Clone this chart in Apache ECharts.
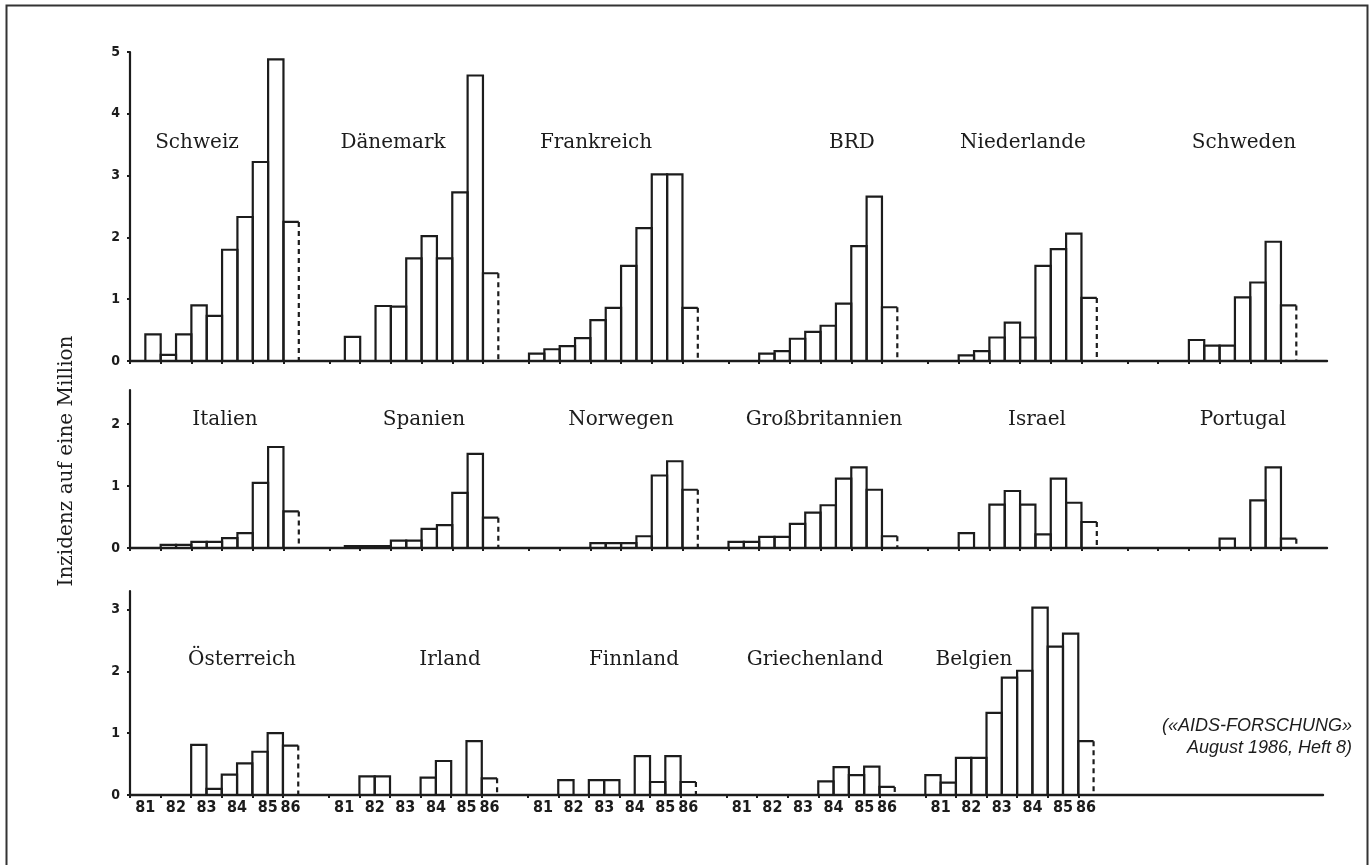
<!DOCTYPE html>
<html><head><meta charset="utf-8">
<script src="https://cdn.jsdelivr.net/npm/echarts@6/dist/echarts.min.js"></script>
<style>html,body{margin:0;padding:0;background:#fff}#c{width:1370px;height:865px}</style>
</head><body><div id="c"></div>
<script>
// ---- data ----
const halfYears = ['81/1','81/2','82/1','82/2','83/1','83/2','84/1','84/2','85/1','85/2','86/1'];
const yearLabels = ['81','82','83','84','85','86'];
const yAxisTitle = 'Inzidenz auf eine Million';
const sourceLines = ['(«AIDS-FORSCHUNG»', 'August 1986, Heft 8)'];

const row1Countries = ['Schweiz','Dänemark','Frankreich','BRD','Niederlande','Schweden'];
const row2Countries = ['Italien','Spanien','Norwegen','Großbritannien','Israel','Portugal'];
const row3Countries = ['Österreich','Irland','Finnland','Griechenland','Belgien'];

const schweiz        = [0, 0.43, 0.10, 0.43, 0.90, 0.73, 1.80, 2.33, 3.22, 4.88, 2.25];
const daenemark      = [0, 0.39, 0, 0.89, 0.88, 1.66, 2.02, 1.66, 2.73, 4.62, 1.42];
const frankreich     = [0.12, 0.19, 0.24, 0.37, 0.66, 0.86, 1.54, 2.15, 3.02, 3.02, 0.86];
const brd            = [0, 0, 0.12, 0.16, 0.36, 0.47, 0.57, 0.93, 1.86, 2.66, 0.87];
const niederlande    = [0, 0, 0.09, 0.16, 0.38, 0.62, 0.38, 1.54, 1.81, 2.06, 1.02];
const schweden       = [0, 0, 0, 0, 0.34, 0.25, 0.25, 1.03, 1.27, 1.93, 0.90];

const italien        = [0, 0, 0.05, 0.05, 0.10, 0.10, 0.16, 0.24, 1.05, 1.63, 0.59];
const spanien        = [0, 0.03, 0.03, 0.03, 0.12, 0.12, 0.31, 0.37, 0.89, 1.52, 0.49];
const norwegen       = [0, 0, 0, 0, 0.08, 0.08, 0.08, 0.19, 1.17, 1.40, 0.94];
const grossbritannien= [0.10, 0.10, 0.18, 0.18, 0.39, 0.57, 0.69, 1.12, 1.30, 0.94, 0.19];
const israel         = [0, 0, 0.24, 0, 0.70, 0.92, 0.70, 0.22, 1.12, 0.73, 0.42];
const portugal       = [0, 0, 0, 0, 0, 0, 0.15, 0, 0.77, 1.30, 0.15];

const oesterreich    = [0, 0, 0, 0, 0.81, 0.10, 0.33, 0.51, 0.70, 1.00, 0.80];
const irland         = [0, 0, 0.30, 0.30, 0, 0, 0.28, 0.55, 0, 0.87, 0.27];
const finnland       = [0, 0, 0.24, 0, 0.24, 0.24, 0, 0.63, 0.21, 0.63, 0.21];
const griechenland   = [0, 0, 0, 0, 0, 0, 0.22, 0.45, 0.32, 0.46, 0.13];
const belgien        = [0.32, 0.20, 0.60, 0.60, 1.33, 1.90, 2.01, 3.03, 2.40, 2.61, 0.87];

const row1Values = [schweiz, daenemark, frankreich, brd, niederlande, schweden];
const row2Values = [italien, spanien, norwegen, grossbritannien, israel, portugal];
const row3Values = [oesterreich, irland, finnland, griechenland, belgien];

const row1Ticks = [0, 1, 2, 3, 4, 5];
const row2Ticks = [0, 1, 2];
const row3Ticks = [0, 1, 2, 3];

// ---- layout (not data) ----
const SLOTS_PER_COUNTRY = 13;
const TOTAL_SLOTS = 78;
const INK = '#1c1c1c';
const rowsLayout = [
  { top: 52,  height: 309, width: 1197, max: 5,    labelY: 143 },
  { top: 390, height: 158, width: 1197, max: 2.55, labelY: 420 },
  { top: 591, height: 204, width: 1193, max: 3.3,  labelY: 660 }
];
const labelCenters = [
  [197, 393, 596, 852, 1023, 1244],
  [225, 424, 621, 824, 1037, 1243],
  [242, 450, 634, 815, 974]
];

const rows = [
  { names: row1Countries, values: row1Values, ticks: row1Ticks },
  { names: row2Countries, values: row2Values, ticks: row2Ticks },
  { names: row3Countries, values: row3Values, ticks: row3Ticks }
];

function renderItem(params, api) {
  const x = api.value(0), v = api.value(1), last = api.value(2);
  const bl = api.coord([x, 0]);
  const tr = api.coord([x + 1, v]);
  const l = bl[0], r = tr[0], b = bl[1], t = tr[1];
  const children = [{
    type: 'polyline',
    shape: { points: last ? [[l, b], [l, t], [r, t]] : [[l, b], [l, t], [r, t], [r, b]] },
    style: { stroke: INK, lineWidth: 2.2, fill: null, lineJoin: 'miter' }
  }];
  if (last) {
    children.push({ type: 'line', shape: { x1: r, y1: t, x2: r, y2: b },
      style: { stroke: INK, lineWidth: 2.2, lineDash: [5, 4] } });
  }
  return { type: 'group', children };
}

const grids = [], xAxes = [], yAxes = [], series = [], graphics = [];

rows.forEach((row, ri) => {
  const L = rowsLayout[ri];
  grids.push({ left: 130, top: L.top, width: L.width, height: L.height });
  const tickPos = [], labelPos = [];
  row.names.forEach((n, p) => {
    for (let k = 0; k <= 10; k += 2) tickPos.push(p * SLOTS_PER_COUNTRY + k);
    for (let y = 0; y < yearLabels.length; y++) {
      labelPos.push(p * SLOTS_PER_COUNTRY + (y < 5 ? 2 * y + 1 : 10.5));
    }
  });
  xAxes.push({
    gridIndex: ri, type: 'value', min: 0, max: TOTAL_SLOTS,
    axisLine: { show: true, lineStyle: { color: INK, width: 2.4 } },
    axisTick: { show: true, length: 3, customValues: tickPos, lineStyle: { color: INK, width: 2 } },
    axisLabel: {
      show: ri === 2, customValues: labelPos, margin: 5,
      color: INK, fontSize: 16, fontWeight: 'bold',
      fontFamily: 'DejaVu Sans Condensed, DejaVu Sans, sans-serif',
      formatter: (v) => {
        const k = Math.round((v % SLOTS_PER_COUNTRY) * 2) / 2;
        return k > 10 ? yearLabels[5] : yearLabels[(k - 1) / 2];
      }
    },
    splitLine: { show: false }
  });
  yAxes.push({
    gridIndex: ri, type: 'value', min: 0, max: L.max, interval: 1,
    axisLine: { show: true, lineStyle: { color: INK, width: 2.2 } },
    axisTick: { show: true, length: 3, customValues: row.ticks, lineStyle: { color: INK, width: 2 } },
    axisLabel: {
      customValues: row.ticks, margin: 10, color: INK, fontSize: 14, fontWeight: 'bold',
      fontFamily: 'DejaVu Sans Condensed, DejaVu Sans, sans-serif'
    },
    splitLine: { show: false }
  });
  const data = [];
  row.values.forEach((vals, p) => {
    vals.forEach((v, i) => {
      if (v > 0) data.push([p * SLOTS_PER_COUNTRY + i, v, i === halfYears.length - 1 ? 1 : 0, halfYears[i]]);
    });
  });
  series.push({
    type: 'custom', xAxisIndex: ri, yAxisIndex: ri, renderItem,
    encode: { x: 0, y: 1 }, data, silent: true, z: 3
  });
  row.names.forEach((n, p) => {
    graphics.push({
      type: 'text', x: labelCenters[ri][p], y: L.labelY,
      style: { text: n, fill: INK, font: '20px "DejaVu Serif", serif',
        textAlign: 'center', textVerticalAlign: 'middle' }
    });
  });
});

graphics.push({ type: 'rect', shape: { x: 6.5, y: 5.5, width: 1361, height: 900 },
  style: { fill: null, stroke: '#333', lineWidth: 2 } });
graphics.push({ type: 'text', x: 67, y: 461, rotation: Math.PI / 2,
  style: { text: yAxisTitle, fill: INK, font: '20px "DejaVu Serif", serif',
    textAlign: 'center', textVerticalAlign: 'middle' } });
sourceLines.forEach((s, i) => {
  graphics.push({ type: 'text', x: 1352, y: 726 + i * 22,
    style: { text: s, fill: INK, font: 'italic 18px "Liberation Sans", Arial, sans-serif',
      textAlign: 'right', textVerticalAlign: 'middle' } });
});

const chart = echarts.init(document.getElementById('c'), null, { renderer: 'canvas' });
chart.setOption({
  animation: false,
  backgroundColor: '#fff',
  grid: grids, xAxis: xAxes, yAxis: yAxes, series,
  graphic: graphics
});
</script></body></html>
